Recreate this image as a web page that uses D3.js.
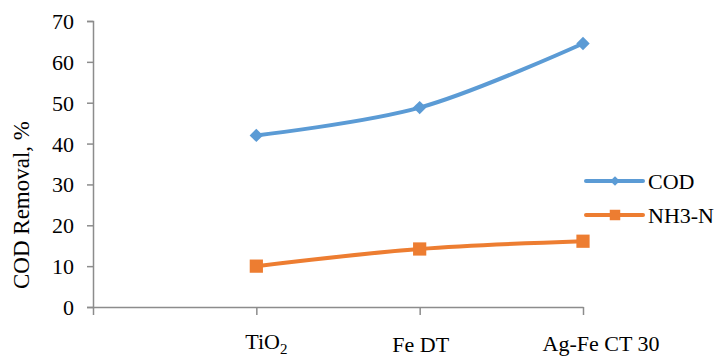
<!DOCTYPE html>
<html>
<head>
<meta charset="utf-8">
<script src="https://cdn.jsdelivr.net/npm/d3@7/dist/d3.min.js"></script>
<style>
  html, body { margin: 0; padding: 0; background: #ffffff; }
  svg { display: block; }
  text { font-family: "Liberation Serif", "Times New Roman", serif; fill: #000; }
</style>
</head>
<body>
<svg id="chart" width="718" height="356"></svg>
<script>
// Categories along the x axis (the first slot is an empty lead-in position)
const categories = ["", "TiO2", "Fe DT", "Ag-Fe CT 30"];
const seriesNames = ["COD", "NH3-N"];
const codValues = [null, 42, 48.8, 64.5];
const nh3Values = [null, 10, 14.2, 16.1];
const yTicks = [0, 10, 20, 30, 40, 50, 60, 70];
const yTitle = "COD Removal, %";

const colors = { "COD": "#5b9bd5", "NH3-N": "#ed7d31" };
const axisColor = "#8c8c8c";
const fontFamily = '"Liberation Serif", "Times New Roman", serif';

const svg = d3.select("#chart");
const margin = { left: 93, right: 135, top: 21, bottom: 49 };
const W = 718, H = 356;

const x = d3.scalePoint().domain(categories).range([margin.left, W - margin.right]);
const y = d3.scaleLinear().domain([0, 70]).range([H - margin.bottom, margin.top]);

// Y axis
const yAxis = svg.append("g")
  .attr("transform", `translate(${margin.left},0)`)
  .call(d3.axisLeft(y).tickValues(yTicks).tickSize(6).tickPadding(13).tickFormat(d3.format("d")));
yAxis.select(".domain").attr("stroke", axisColor).attr("stroke-width", 1.5);
yAxis.selectAll(".tick line").attr("stroke", axisColor).attr("stroke-width", 1.5);
yAxis.selectAll(".tick text")
  .style("font-size", "22px").style("font-family", fontFamily)
  .attr("fill", "#000").attr("dy", "0.34em");

// X axis
const xAxis = svg.append("g")
  .attr("transform", `translate(0,${y(0)})`)
  .call(d3.axisBottom(x).tickSize(8).tickSizeOuter(0).tickFormat(""));
xAxis.select(".domain").attr("stroke", axisColor).attr("stroke-width", 1.5);
xAxis.selectAll(".tick line").attr("stroke", axisColor).attr("stroke-width", 1.5);

// Category labels
const labelShift = { "TiO2": 10, "Fe DT": 1, "Ag-Fe CT 30": 18 };
const labelDrop = { "TiO2": 42, "Fe DT": 45, "Ag-Fe CT 30": 44 };
categories.slice(1).forEach(c => {
  const t = svg.append("text")
    .attr("x", x(c) + labelShift[c])
    .attr("y", y(0) + labelDrop[c])
    .attr("text-anchor", "middle")
    .style("font-size", "22px");
  if (c === "TiO2") {
    t.append("tspan").text("TiO");
    t.append("tspan").attr("dy", 5).style("font-size", "15px").text("2");
  } else {
    t.text(c);
  }
});

// Y axis title
svg.append("text")
  .attr("transform", `translate(29,${(y(0) + y(70)) / 2 + 41}) rotate(-90)`)
  .attr("text-anchor", "middle")
  .style("font-size", "23px")
  .text(yTitle);

// Series lines
const line = d3.line()
  .defined(d => d.v != null)
  .x(d => x(d.c))
  .y(d => y(d.v))
  .curve(d3.curveCatmullRom.alpha(0.5));

const series = [
  { name: "COD", values: codValues, symbol: d3.symbolDiamond2, size: 115, legendSize: 60 },
  { name: "NH3-N", values: nh3Values, symbol: d3.symbolSquare, size: 175, legendSize: 110 }
];

series.forEach(s => {
  const pts = categories.map((c, i) => ({ c, v: s.values[i] }));
  svg.append("path")
    .datum(pts)
    .attr("d", line)
    .attr("fill", "none")
    .attr("stroke", colors[s.name])
    .attr("stroke-width", 4)
    .attr("stroke-linecap", "round");
  svg.selectAll(null)
    .data(pts.filter(d => d.v != null))
    .join("path")
    .attr("transform", d => `translate(${x(d.c)},${y(d.v)})`)
    .attr("d", d3.symbol().type(s.symbol).size(s.size))
    .attr("fill", colors[s.name]);
});

// Legend
const legend = svg.append("g").attr("transform", "translate(586,181)");
series.forEach((s, i) => {
  const g = legend.append("g").attr("transform", `translate(0,${i * 34})`);
  g.append("line").attr("x1", 0).attr("x2", 57).attr("y1", 0).attr("y2", 0)
    .attr("stroke", colors[s.name]).attr("stroke-width", 4).attr("stroke-linecap", "round");
  g.append("path").attr("transform", "translate(29,0)")
    .attr("d", d3.symbol().type(s.symbol).size(s.legendSize))
    .attr("fill", colors[s.name]);
  g.append("text").attr("x", 62).attr("y", 8).style("font-size", "22px").text(s.name);
});
</script>
</body>
</html>
